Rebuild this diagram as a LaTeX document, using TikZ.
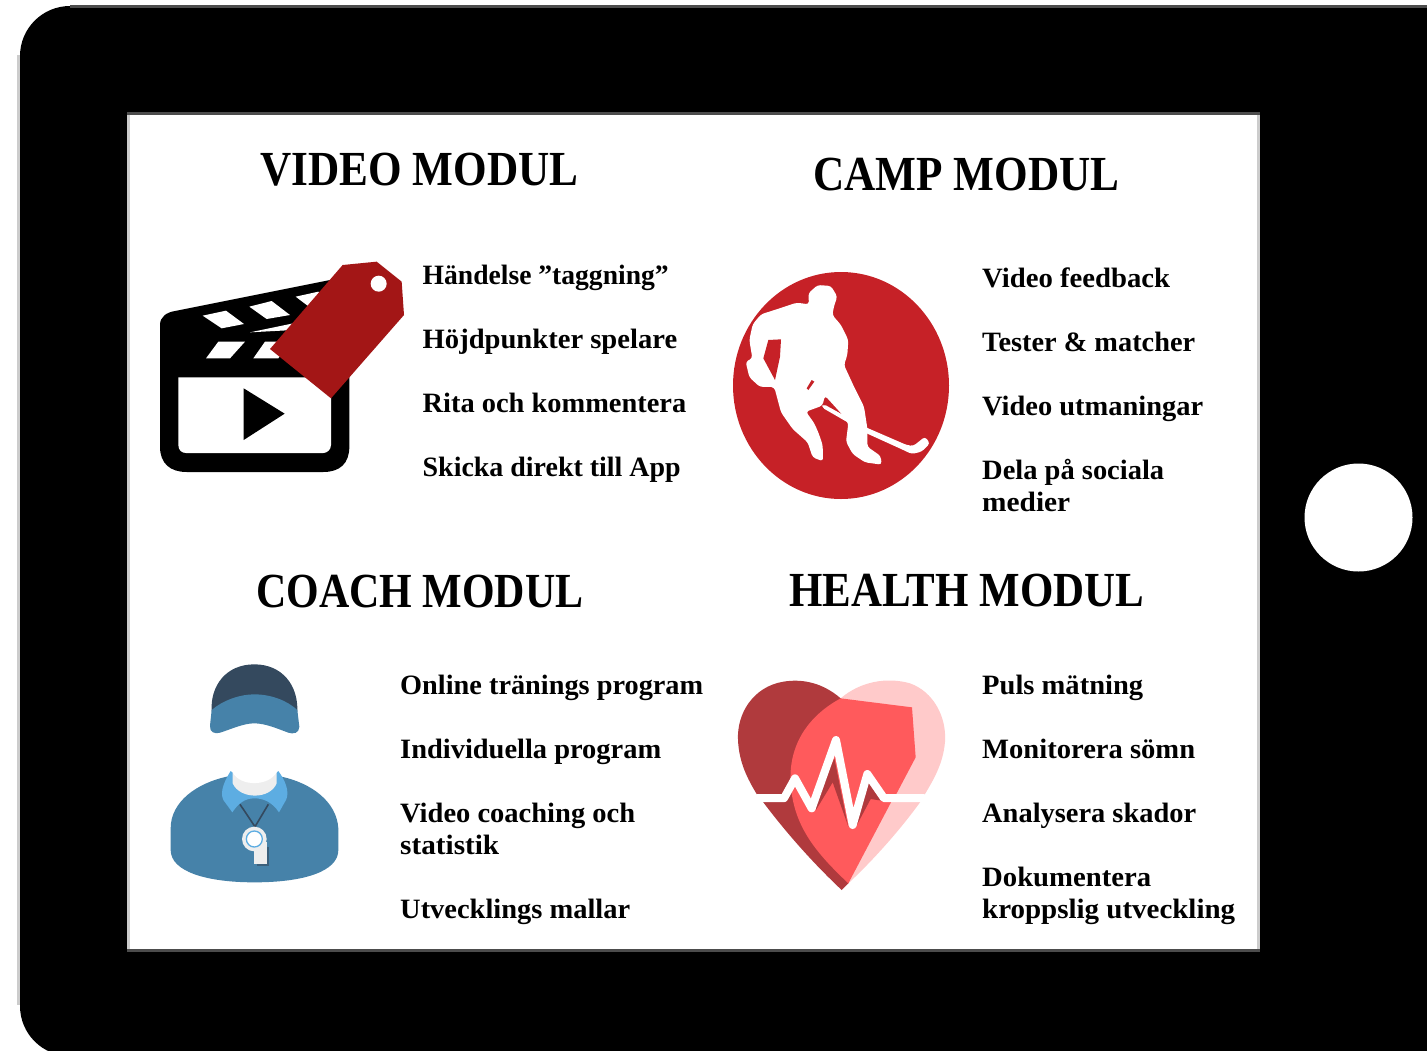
\documentclass[tikz,border=0pt]{standalone}
\usepackage{graphicx}
\usepackage{fontspec}
\setmainfont{Liberation Serif}
\definecolor{tagred}{HTML}{A31616}
\definecolor{pucks}{HTML}{C62127}
\definecolor{capdark}{HTML}{34495E}
\definecolor{coachblue}{HTML}{4682A9}
\definecolor{collar}{HTML}{5DADE2}
\definecolor{neckgrey}{HTML}{EEEEEE}
\definecolor{hdark}{HTML}{B03A3D}
\definecolor{hpink}{HTML}{FFCACA}
\definecolor{hfront}{HTML}{FF5A5C}
% set a line to the printed width, stretching it sideways only
\newcommand{\fitw}[2]{\resizebox{#1pt}{\height}{#2}}
\tikzset{
  x=1pt,y=-1pt,
  heading/.style={anchor=base west,inner sep=0pt,font=\fontsize{49}{49}\selectfont\bfseries},
  item/.style={anchor=base west,inner sep=0pt,align=left,font=\fontsize{28}{32}\selectfont\bfseries},
  zoomA/.style={shift={(150,250)},x=1/3*1pt,y=-1/3*1pt},
  zoomB/.style={shift={(725,260)},x=1/3*1pt,y=-1/3*1pt},
  zoomC/.style={shift={(160,655)},x=1/3*1pt,y=-1/3*1pt},
  zoomD/.style={shift={(730,670)},x=1/3*1pt,y=-1/3*1pt},
}
\begin{document}
\begin{tikzpicture}
\useasboundingbox (0,0) rectangle (1427,1050);
\fill[white] (0,0) rectangle (1427,1050);
\begin{scope}
\clip (0,0) rectangle (1427,1050);
% tablet
\fill[black!20] (17,55) rectangle (20,1005);
\fill[black,rounded corners=50pt] (20,6) rectangle (1500,1056);
\fill[black!70] (70,5) rectangle (1427,8);
\end{scope}
% screen
\fill[black!70] (127,112) rectangle (1260,952);
\fill[black!20] (127,115) rectangle (1260,949);
\fill[white] (130,115) rectangle (1257,949);
\node[circle,fill=white,draw=none,minimum size=108pt,inner sep=0pt] (homebutton) at (1358.5,517.5) {};

% headings
\node[heading] (h1) at (260,185) {\fitw{318}{VIDEO MODUL}};
\node[heading] (h2) at (813,190) {\fitw{306}{CAMP MODUL}};
\node[heading] (h3) at (256,607) {\fitw{327}{COACH MODUL}};
\node[heading] (h4) at (789,606) {\fitw{355}{HEALTH MODUL}};

% items
\node[item] (a1) at (422.5,284) {\fitw{246}{Händelse ”taggning”}};
\node[item] (a2) at (422.5,348) {\fitw{254.5}{Höjdpunkter spelare}};
\node[item] (a3) at (422.5,412) {\fitw{263.5}{Rita och kommentera}};
\node[item] (a4) at (422.5,476) {\fitw{258}{Skicka direkt till App}};
\node[item] (b1) at (982,287) {\fitw{188}{Video feedback}};
\node[item] (b2) at (982,351) {\fitw{213}{Tester \& matcher}};
\node[item] (b3) at (982,415) {\fitw{221}{Video utmaningar}};
\node[item] (b4) at (982,479) {\fitw{182}{Dela på sociala}};
\node[item] (b5) at (982,511) {\fitw{88}{medier}};
\node[item] (c1) at (400,694) {\fitw{303}{Online tränings program}};
\node[item] (c2) at (400,758) {\fitw{261}{Individuella program}};
\node[item] (c3) at (400,822) {\fitw{235}{Video coaching och}};
\node[item] (c4) at (400,854) {\fitw{99}{statistik}};
\node[item] (c5) at (400,918) {\fitw{230}{Utvecklings mallar}};
\node[item] (d1) at (982,694) {\fitw{161}{Puls mätning}};
\node[item] (d2) at (982,758) {\fitw{213}{Monitorera sömn}};
\node[item] (d3) at (982,822) {\fitw{214}{Analysera skador}};
\node[item] (d4) at (982,886) {\fitw{169}{Dokumentera}};
\node[item] (d5) at (982,918) {\fitw{253}{kroppslig utveckling}};

% clapperboard
\begin{scope}[zoomA]
\fill[black] (75,183) -- (540,90) -- (598,200) -- (598,590) .. controls (598,640) and (570,666) .. (520,666) -- (110,666) .. controls (60,666) and (30,640) .. (30,590) -- (30,225) .. controls (30,200) and (50,187) .. (75,183) -- cycle;
\fill[white] (85,382) -- (543,382) -- (543,585) .. controls (543,600) and (530,609) .. (520,609) -- (108,609) .. controls (95,609) and (85,600) .. (85,585) -- cycle;
\fill[white] (158,197) -- (228,182) -- (282,222) -- (215,235) -- cycle;
\fill[white] (298,170) -- (365,153) -- (420,195) -- (350,207) -- cycle;
\fill[white] (437,140) -- (505,125) -- (540,160) -- (490,180) -- cycle;
\fill[white] (300,247) -- (430,220) -- (430,240) -- cycle;
\fill[white] (168,325) -- (205,275) -- (285,275) -- (240,325) -- cycle;
\fill[white] (310,325) -- (345,275) -- (420,275) -- (385,325) -- cycle;
\fill[black] (281,415) -- (404,491) -- (281,570) -- cycle;
\fill[tagred] (360,297) -- (578,45) -- (680,35) -- (755,95) -- (762,195) -- (543,445) -- cycle;
\fill[white] (686,101) circle[radius=24];
\end{scope}

% hockey player
\fill[pucks] (841,385.5) ellipse[x radius=108,y radius=113.5];
\begin{scope}[zoomB]
\fill[white,rounded corners=3pt] (250,100) -- (278,75) -- (318,78) -- (337,110) -- (328,135) -- (322,165) -- (348,195) -- (370,240) -- (367,285) -- (357,315) -- (387,380) -- (417,440) -- (427,505) -- (427,560) -- (467,588) -- (470,614) -- (420,607) -- (383,582) -- (363,545) -- (370,490) -- (350,462) -- (300,407) -- (292,437) -- (243,455) -- (268,490) -- (281,520) -- (293,555) -- (294,604) -- (263,592) -- (248,547) -- (203,507) -- (168,457) -- (148,382) -- (130,380) -- (105,381) -- (73,352) -- (62,305) -- (82,295) -- (73,240) -- (83,193) -- (108,163) -- (170,143) -- (215,128) -- (252,133) -- cycle;
\fill[pucks] (130,240) -- (168,238) -- (165,290) -- (150,360) -- (115,295) -- cycle;
\fill[pucks] (260,360) -- (268,365) -- (250,390) -- (245,385) -- cycle;
\fill[white,rounded corners=3pt] (295,432) -- (355,465) -- (425,503) -- (545,555) -- (565,558) -- (600,530) -- (615,550) -- (590,575) -- (560,582) -- (535,570) -- (425,520) -- (290,442) -- cycle;
\end{scope}

% coach
\begin{scope}[zoomC]
\fill[capdark] (155,170) .. controls (150,90) and (200,28) .. (283,28) .. controls (366,28) and (415,90) .. (412,170) -- (283,190) -- cycle;
\fill[coachblue] (155,165) .. controls (190,135) and (240,118) .. (283,118) .. controls (330,118) and (380,135) .. (412,165) -- (418,215) .. controls (418,235) and (400,238) .. (385,233) .. controls (350,220) and (315,205) .. (283,205) .. controls (250,205) and (215,222) .. (180,233) .. controls (165,238) and (148,232) .. (150,212) -- cycle;
\fill[coachblue] (200,365) .. controls (110,385) and (32,440) .. (32,520) -- (32,585) .. controls (32,650) and (140,682) .. (283,682) .. controls (430,682) and (535,650) .. (535,585) -- (535,520) .. controls (530,440) and (455,385) .. (365,365) -- cycle;
\fill[collar] (212,348) -- (355,348) .. controls (375,375) and (390,410) .. (378,435) -- (357,472) .. controls (335,440) and (310,430) .. (283,430) .. controls (255,430) and (235,445) .. (217,472) -- (190,435) .. controls (178,410) and (195,375) .. (212,348) -- cycle;
\fill[neckgrey] (218,345) -- (350,345) -- (350,385) .. controls (330,434) and (240,434) .. (218,385) -- cycle;
\fill[white] (205,335) -- (212,348) -- (218,352) .. controls (240,395) and (325,395) .. (350,352) -- (355,348) -- (362,335) -- cycle;
\draw[capdark,line width=1.6pt] (240,448) -- (285,515) -- (325,448);
\fill[capdark!60!coachblue] (291,575) -- (328,575) -- (328,632) -- (291,632) -- cycle;
\fill[neckgrey] (283,552) circle[radius=37];
\fill[neckgrey] (283,560) rectangle (321,626);
\fill[white,draw=collar,line width=1.3pt] (283,552) circle[radius=24];
\end{scope}

% heart
\begin{scope}[zoomD]
\fill[hpink] (332,85) .. controls (390,35) and (470,20) .. (540,40) .. controls (610,65) and (650,140) .. (645,215) .. controls (640,280) and (610,330) .. (585,372) -- (570,397) .. controls (510,480) and (430,570) .. (355,640) -- (335,660) -- cycle;
\fill[hdark] (332,85) .. controls (280,40) and (220,25) .. (160,35) .. controls (70,50) and (20,130) .. (24,210) .. controls (27,280) and (55,330) .. (80,372) -- (100,397) .. controls (170,490) and (250,580) .. (335,660) -- (355,640) -- (400,500) -- (400,200) -- cycle;
\fill[hfront] (332,85) -- (546,112) -- (557,262) -- (500,370) -- (483,397) -- (355,640) .. controls (260,550) and (190,470) .. (182,340) .. controls (175,230) and (230,140) .. (332,85) -- cycle;
\fill[hdark] (313,265) -- (350,450) -- (355,470) -- (308,337) -- (258,420) -- (250,400) -- cycle;
\fill[hdark] (412,330) -- (455,392) -- (422,387) -- (378,470) -- (375,450) -- cycle;
\draw[white,line width=8pt,line join=round,line cap=round] (82,384.5) -- (162,384.5) -- (195,325) -- (245,415) -- (318,210) -- (368,465) -- (412,312) -- (462,384.5) -- (582,384.5);
\end{scope}
\end{tikzpicture}
\end{document}
